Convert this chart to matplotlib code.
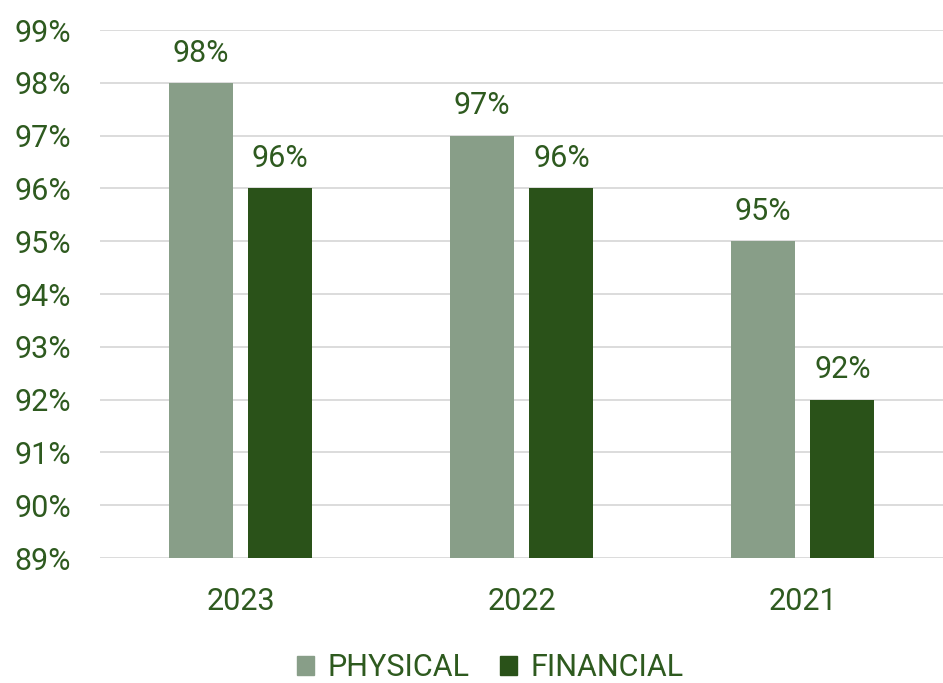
import matplotlib

matplotlib.use("Agg")

import matplotlib.pyplot as plt
import numpy as np
from matplotlib.patches import Patch
from matplotlib.ticker import FuncFormatter

years = ["2023", "2022", "2021"]
physical = [98, 97, 95]
financial = [96, 96, 92]
y_ticks = list(range(89, 100))

text_color = "#2E5A1F"
physical_color = "#889E88"
financial_color = "#2A5219"
grid_color = "#D9D9D9"

plt.rcParams["font.family"] = ["Roboto", "DejaVu Sans"]
fs = 22

fig = plt.figure(figsize=(9.43, 6.83), dpi=100)
ax = fig.add_axes([0.106, 0.183, 0.894, 0.773])

x = np.arange(len(years))
offset = 0.142
width = 0.228
bars_p = ax.bar(x - offset, physical, width, color=physical_color, zorder=3, label="PHYSICAL")
bars_f = ax.bar(x + offset, financial, width, color=financial_color, zorder=3, label="FINANCIAL")

for bars, vals in [(bars_p, physical), (bars_f, financial)]:
    for b, v in zip(bars, vals):
        ax.annotate(f"{v}%", (b.get_x() + b.get_width() / 2, v), xytext=(0, 11),
                    textcoords="offset points", ha="center", va="bottom",
                    fontsize=fs, color=text_color)

ax.set_xlim(-0.5, len(years) - 0.5)
ax.set_ylim(89, 99)
ax.set_yticks(y_ticks)
ax.yaxis.set_major_formatter(FuncFormatter(lambda v, _: f"{v:.0f}%"))
ax.set_xticks(x)
ax.set_xticklabels(years)
ax.tick_params(axis="y", length=0, pad=21, labelsize=fs, labelcolor=text_color)
ax.tick_params(axis="x", length=0, pad=21, labelsize=fs, labelcolor=text_color)
ax.grid(axis="y", color=grid_color, linewidth=1.3, zorder=0)
ax.set_axisbelow(True)
for s in ax.spines.values():
    s.set_visible(False)

handles = [Patch(color=physical_color, label="PHYSICAL"),
           Patch(color=financial_color, label="FINANCIAL")]
leg = fig.legend(handles=handles, loc="center", bbox_to_anchor=(0.52, 0.022),
                 ncol=2, frameon=False, fontsize=fs, handlelength=0.55,
                 handleheight=0.55, handletextpad=0.45, columnspacing=1.0)
for t in leg.get_texts():
    t.set_color(text_color)

fig.savefig("out.png", dpi=100)
